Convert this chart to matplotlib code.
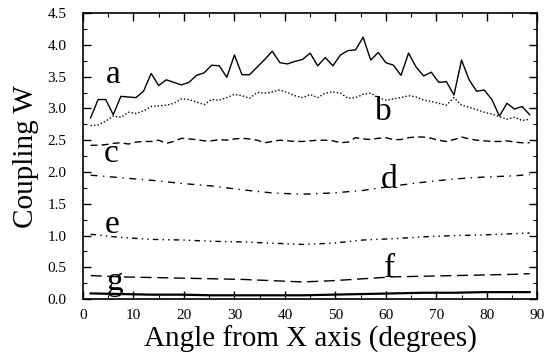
import numpy as np
import matplotlib
matplotlib.use("Agg")
import matplotlib.pyplot as plt
from matplotlib.ticker import MultipleLocator, FormatStrFormatter

# angles for the noisy curves (every 1.5 degrees)
angles = np.arange(1.5, 89.0, 1.5)
# angles for the smooth curves
angles_smooth = [1.5, 7.5, 13.5, 19.5, 25.5, 31.5, 37.5, 43.5, 49.5,
                 55.5, 61.5, 67.5, 73.5, 79.5, 85.5, 88.5]

curve_a = [2.85, 3.14, 3.14, 2.90, 3.19, 3.18, 3.17, 3.27, 3.55, 3.36,
           3.45, 3.41, 3.37, 3.41, 3.52, 3.56, 3.68, 3.67, 3.49, 3.84,
           3.53, 3.53, 3.65, 3.77, 3.90, 3.72, 3.70, 3.74, 3.77, 3.87,
           3.67, 3.80, 3.67, 3.84, 3.91, 3.92, 4.12, 3.76, 3.88, 3.72,
           3.68, 3.52, 3.87, 3.65, 3.51, 3.57, 3.41, 3.42, 3.21, 3.76,
           3.45, 3.27, 3.29, 3.14, 2.88, 3.08, 2.99, 3.03, 2.90]
curve_b = [2.73, 2.74, 2.80, 2.88, 2.86, 2.94, 2.92, 2.96, 3.03, 3.04,
           3.05, 3.08, 3.15, 3.14, 3.10, 3.06, 3.14, 3.13, 3.17, 3.22,
           3.20, 3.16, 3.25, 3.24, 3.26, 3.29, 3.25, 3.20, 3.17, 3.22,
           3.17, 3.24, 3.26, 3.24, 3.16, 3.17, 3.22, 3.24, 3.17, 3.13,
           3.15, 3.17, 3.20, 3.18, 3.13, 3.11, 3.08, 3.05, 3.17, 3.05,
           3.02, 2.98, 2.94, 2.91, 2.87, 2.83, 2.86, 2.81, 2.83]
curve_c = [2.42, 2.42, 2.43, 2.45, 2.46, 2.44, 2.47, 2.48, 2.48, 2.50,
           2.45, 2.48, 2.53, 2.52, 2.51, 2.49, 2.49, 2.51, 2.50, 2.52,
           2.53, 2.52, 2.50, 2.46, 2.48, 2.50, 2.49, 2.48, 2.48, 2.49,
           2.50, 2.50, 2.49, 2.46, 2.47, 2.54, 2.52, 2.51, 2.53, 2.54,
           2.51, 2.51, 2.54, 2.55, 2.55, 2.53, 2.50, 2.48, 2.51, 2.55,
           2.52, 2.50, 2.49, 2.48, 2.48, 2.49, 2.47, 2.46, 2.46]
curve_d = [1.95, 1.91, 1.87, 1.82, 1.78, 1.72, 1.67, 1.65, 1.67, 1.71,
           1.78, 1.84, 1.89, 1.92, 1.94, 1.96]
curve_e = [1.02, 0.97, 0.94, 0.93, 0.91, 0.90, 0.88, 0.86, 0.88, 0.93,
           0.95, 0.98, 1.00, 1.01, 1.03, 1.04]
curve_f = [0.37, 0.35, 0.34, 0.33, 0.32, 0.31, 0.29, 0.27, 0.29, 0.32,
           0.35, 0.36, 0.37, 0.38, 0.39, 0.40]
curve_g = [0.09, 0.08, 0.07, 0.07, 0.06, 0.06, 0.06, 0.06, 0.07, 0.08,
           0.09, 0.10, 0.10, 0.11, 0.11, 0.11]

# curve letters: (letter, x, baseline y)
labels = [("a", 6.0, 3.40), ("b", 59.6, 2.81), ("c", 5.6, 2.15),
          ("d", 60.6, 1.75), ("e", 5.7, 1.04), ("f", 60.8, 0.35),
          ("g", 6.3, 0.14)]

plt.rcParams['font.family'] = ['Liberation Serif', 'DejaVu Serif']

fig = plt.figure(figsize=(5.46, 3.63), dpi=100)
ax = fig.add_axes([0.152, 0.176, 0.832, 0.788])

ax.plot(angles, curve_a, color='black', lw=1.0, ls='-')
ax.plot(angles, curve_b, color='black', lw=1.0, ls=(0, (1, 1.5)))
ax.plot(angles, curve_c, color='black', lw=1.0, ls=(0, (5, 3)))
ax.plot(angles_smooth, curve_d, color='black', lw=1.0, ls=(0, (5, 4, 1, 4)))
ax.plot(angles_smooth, curve_e, color='black', lw=1.0, ls=(0, (4, 3, 1, 3, 1, 3)))
ax.plot(angles_smooth, curve_f, color='black', lw=1.0, ls=(0, (8, 4)))
ax.plot(angles_smooth, curve_g, color='black', lw=1.6, ls='-')

for letter, x, y in labels:
    ax.text(x, y, letter, fontsize=24, ha='center', va='baseline')

ax.set_xlim(0, 90)
ax.set_ylim(0, 4.5)
ax.xaxis.set_major_locator(MultipleLocator(10))
ax.xaxis.set_minor_locator(MultipleLocator(5))
ax.yaxis.set_major_locator(MultipleLocator(0.5))
ax.yaxis.set_minor_locator(MultipleLocator(0.25))
ax.yaxis.set_major_formatter(FormatStrFormatter('%.1f'))
ax.tick_params(which='both', direction='in', top=True, right=True, labelsize=11)
ax.tick_params(which='major', length=6, width=1)
ax.tick_params(which='minor', length=3, width=0.8)
ax.tick_params(axis='y', pad=12)
ax.tick_params(axis='x', pad=7)
for s in ax.spines.values():
    s.set_linewidth(1.2)

ax.set_xlabel('Angle from X axis (degrees)', fontsize=21, labelpad=3)
ax.set_ylabel('Coupling W', fontsize=21, labelpad=6)

fig.savefig('out.png', dpi=100)
